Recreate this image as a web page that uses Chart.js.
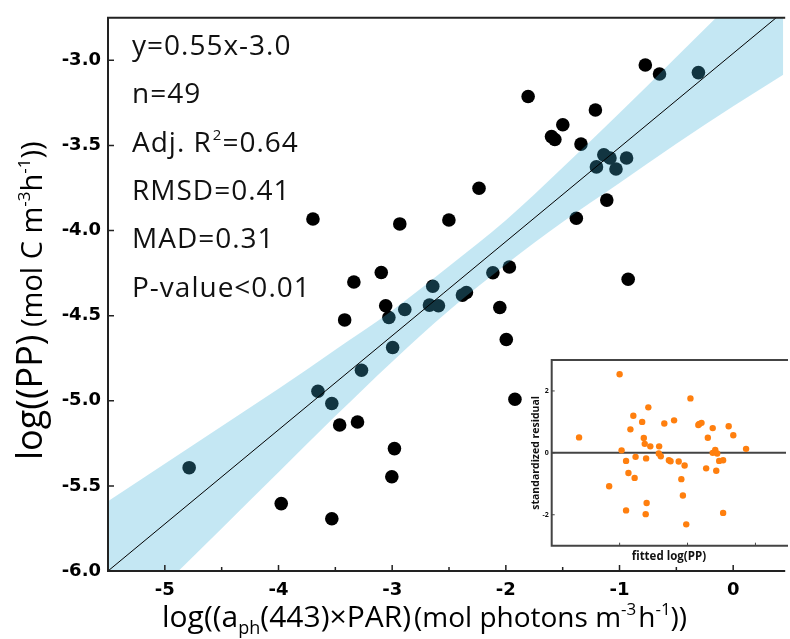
<!DOCTYPE html>
<html>
<head>
<meta charset="utf-8">
<script src="https://cdn.jsdelivr.net/npm/chart.js@4.4.1/dist/chart.umd.min.js"></script>
<style>
    html, body { margin: 0; padding: 0; background: #fff; overflow: hidden; }
    #wrap { position: relative; width: 790px; height: 639px; }
    #main { position: absolute; left: 0; top: 0; }
    #inset { position: absolute; left: 530px; top: 350px; }
</style>
</head>
<body>
<div id="wrap">
    <canvas id="main" width="790" height="639"></canvas>
    <canvas id="inset" width="260" height="215"></canvas>
</div>
<script>
// observed points: log(aph(443) x PAR) vs log(PP)
const obsX = [-0.773, -0.648, -0.306, -1.804, -1.212, -1.499, -1.598, -1.569, -1.339, -1.138,
    -1.084, -0.938, -1.203, -1.031, -2.236, -1.112, -2.933, -2.501, -1.380, -3.096,
    -2.643, -2.114, -1.969, -3.057, -3.029, -2.889, -2.672, -2.593, -2.382, -2.347,
    -2.053, -1.996, -2.996, -3.697, -3.337, -3.418, -3.270, -3.653, -3.531, -3.462,
    -3.305, -2.980, -3.003, -3.531, -4.786, -3.976, -1.920, -0.924];
const obsY = [-3.027, -3.080, -3.072, -3.212, -3.292, -3.378, -3.448, -3.465, -3.492, -3.555,
    -3.574, -3.574, -3.626, -3.638, -3.751, -3.821, -3.961, -3.938, -3.928, -4.246,
    -4.327, -4.248, -4.214, -4.442, -4.511, -4.464, -4.438, -4.442, -4.379, -4.364,
    -4.452, -4.640, -4.687, -3.932, -4.302, -4.525, -4.821, -4.944, -5.016, -5.142,
    -5.125, -5.281, -5.446, -5.693, -5.393, -5.604, -4.991, -4.286];

// regression line end points and its confidence band
const fitX = [-5.5, 0.45];
const fitY = [-6.0, -2.71];
const bandX = [-5.5, -5.0, -4.5, -4.0, -3.5, -3.0, -2.5, -2.0, -1.5, -1.0, -0.5, 0.0, 0.45];
const bandUpper = [-5.59, -5.37, -5.15, -4.93, -4.70, -4.47, -4.21, -3.94, -3.63, -3.31, -2.98, -2.65, -2.35];
const bandLower = [-6.42, -6.08, -5.75, -5.42, -5.09, -4.77, -4.47, -4.20, -3.95, -3.72, -3.49, -3.27, -3.08];

const xTicks = [-5, -4, -3, -2, -1, 0];
const xMinorTicks = [-4.5, -3.5, -2.5, -1.5, -0.5];
const yTicks = [-6.0, -5.5, -5.0, -4.5, -4.0, -3.5, -3.0];

const statsText = ['y=0.55x-3.0', 'n=49', 'Adj. R^2=0.64', 'RMSD=0.41', 'MAD=0.31', 'P-value<0.01'];

// inset: residuals
const fittedPP = [-5.597, -5.000, -5.154, -4.971, -4.905, -4.905, -4.841, -4.870, -4.798, -4.765,
    -4.779, -4.668, -4.644, -4.630, -4.610, -4.602, -4.616, -4.577, -4.548, -4.423,
    -4.418, -4.394, -4.342, -4.274, -4.250, -4.198, -4.130, -4.091, -4.068, -4.043,
    -4.019, -3.957, -3.841, -3.827, -3.794, -3.726, -3.701, -3.629, -3.629, -3.592,
    -3.577, -3.563, -3.534, -3.476, -3.476, -3.394, -3.326, -3.138];
const residual = [0.50, 2.54, -1.08, 0.08, -0.26, -1.86, 0.76, -0.65, 1.20, -0.13,
    -0.81, 1.00, 0.48, 0.29, -0.18, -1.62, -1.98, 1.47, 0.21, -0.02,
    0.21, -0.11, 0.95, -0.24, -0.27, 1.05, -0.28, -0.85, -1.38, -0.41,
    -2.31, 1.76, 0.90, 0.93, 0.97, -0.50, 0.49, 0.80, 0.00, 0.09,
    -0.58, -0.02, -0.26, -0.24, -1.94, 0.86, 0.57, 0.13];
const fittedTicks = [-5, -4, -3];
const residTicks = [-2, 0, 2];

Chart.defaults.font.family = 'Open Sans';

function pts(xs, ys) {
    return xs.map((x, i) => ({ x: x, y: ys[i] }));
}

// draws a run of text pieces (for sub/superscripts) along a baseline
function drawRich(ctx, parts, x, y, rot) {
    ctx.save();
    ctx.translate(x, y);
    ctx.rotate(rot);
    ctx.textBaseline = 'alphabetic';
    ctx.textAlign = 'left';
    let cx = 0;
    parts.forEach(p => {
        ctx.font = p.font;
        ctx.fillText(p.t, cx, p.dy || 0);
        cx += ctx.measureText(p.t).width + (p.gap || 0);
    });
    ctx.restore();
}

const mainFrame = {
    id: 'mainFrame',
    afterDraw(chart) {
        const { ctx, chartArea: a, scales: { x, y } } = chart;
        ctx.save();
        ctx.strokeStyle = '#222';
        ctx.lineWidth = 2;
        ctx.beginPath();
        ctx.moveTo(a.right + 2, a.top);
        ctx.lineTo(a.left, a.top);
        ctx.lineTo(a.left, a.bottom);
        ctx.lineTo(a.right + 2, a.bottom);
        ctx.stroke();

        // inward tick marks
        ctx.lineWidth = 1.5;
        ctx.beginPath();
        xTicks.forEach(v => {
            const px = x.getPixelForValue(v);
            ctx.moveTo(px, a.bottom);
            ctx.lineTo(px, a.bottom - 6);
        });
        xMinorTicks.forEach(v => {
            const px = x.getPixelForValue(v);
            ctx.moveTo(px, a.bottom);
            ctx.lineTo(px, a.bottom - 4);
        });
        yTicks.forEach(v => {
            const py = y.getPixelForValue(v);
            ctx.moveTo(a.left, py);
            ctx.lineTo(a.left + 6, py);
        });
        ctx.stroke();

        // statistics block
        ctx.fillStyle = '#111';
        ctx.letterSpacing = '1px';
        statsText.forEach((s, i) => {
            const base = 55 + i * 48.3;
            const bits = s.split('^');
            if (bits.length === 1) {
                drawRich(ctx, [{ t: s, font: '28px "Open Sans"' }], 132, base, 0);
            } else {
                drawRich(ctx, [
                    { t: bits[0], font: '28px "Open Sans"', gap: 1 },
                    { t: bits[1].charAt(0), font: '15px "Open Sans"', dy: -12 },
                    { t: bits[1].slice(1), font: '28px "Open Sans"' }
                ], 132, base, 0);
            }
        });
        ctx.letterSpacing = '0px';

        // axis titles
        ctx.fillStyle = '#000';
        drawRich(ctx, [
            { t: 'log((a', font: '30px "Open Sans"' },
            { t: 'ph', font: '18px "Open Sans"', dy: 7 },
            { t: '(443)\u00d7PAR)', font: '30px "Open Sans"', gap: 3 },
            { t: '(mol photons m', font: '28px "Open Sans"' },
            { t: '-3', font: '17px "Open Sans"', dy: -12, gap: 2 },
            { t: 'h', font: '28px "Open Sans"' },
            { t: '-1', font: '17px "Open Sans"', dy: -12 },
            { t: '))', font: '28px "Open Sans"' }
        ], 162, 627, 0);
        drawRich(ctx, [
            { t: 'log((PP)', font: '36px "Open Sans"' },
            { t: ' (mol C m', font: '29px "Open Sans"' },
            { t: '-3', font: '17px "Open Sans"', dy: -12 },
            { t: 'h', font: '29px "Open Sans"' },
            { t: '-1', font: '17px "Open Sans"', dy: -12 },
            { t: '))', font: '29px "Open Sans"' }
        ], 42, 460, -Math.PI / 2);
        ctx.restore();
    }
};

new Chart(document.getElementById('main'), {
    type: 'scatter',
    data: {
        datasets: [
            {
                type: 'line',
                label: 'fit',
                data: pts(fitX, fitY),
                borderColor: '#000',
                borderWidth: 1,
                pointRadius: 0,
                fill: false,
                order: 0
            },
            {
                type: 'line',
                label: 'upper',
                data: pts(bandX, bandUpper),
                borderColor: 'rgba(0,0,0,0)',
                borderWidth: 0,
                pointRadius: 0,
                cubicInterpolationMode: 'monotone',
                fill: '+1',
                backgroundColor: 'rgba(60,174,215,0.3)',
                order: 1
            },
            {
                type: 'line',
                label: 'lower',
                data: pts(bandX, bandLower),
                borderColor: 'rgba(0,0,0,0)',
                borderWidth: 0,
                pointRadius: 0,
                cubicInterpolationMode: 'monotone',
                fill: false,
                order: 1
            },
            {
                label: 'obs',
                data: pts(obsX, obsY),
                backgroundColor: '#000',
                borderWidth: 0,
                pointRadius: 6.8,
                order: 2
            }
        ]
    },
    options: {
        responsive: false,
        animation: false,
        events: [],
        layout: { padding: { top: 14, left: 0, right: 0, bottom: 0 } },
        plugins: { legend: { display: false }, tooltip: { enabled: false } },
        scales: {
            x: {
                type: 'linear',
                min: -5.5,
                max: 0.44,
                grid: { display: false, drawTicks: false },
                border: { display: false },
                ticks: {
                    color: '#000',
                    font: { family: 'DejaVu Sans', size: 18, weight: 'bold' },
                    padding: 9,
                    maxRotation: 0,
                    autoSkip: false,
                    callback: v => String(v)
                },
                afterBuildTicks: s => { s.ticks = xTicks.map(v => ({ value: v })); },
                afterFit: s => { s.height = 68; }
            },
            y: {
                type: 'linear',
                min: -6.0,
                max: -2.75,
                grid: { display: false, drawTicks: false },
                border: { display: false },
                ticks: {
                    color: '#000',
                    font: { family: 'DejaVu Sans', size: 18, weight: 'bold' },
                    padding: 7,
                    autoSkip: false,
                    callback: v => v.toFixed(1)
                },
                afterBuildTicks: s => { s.ticks = yTicks.map(v => ({ value: v })); },
                afterFit: s => { s.width = 108; }
            }
        }
    },
    plugins: [mainFrame]
});

const insetFrame = {
    id: 'insetFrame',
    beforeDraw(chart) {
        const { ctx, chartArea: a } = chart;
        ctx.save();
        ctx.fillStyle = '#fff';
        ctx.fillRect(a.left, a.top, a.right - a.left, a.bottom - a.top);
        ctx.restore();
    },
    beforeDatasetsDraw(chart) {
        const { ctx, chartArea: a, scales: { y } } = chart;
        ctx.save();
        ctx.strokeStyle = '#444';
        ctx.lineWidth = 2;
        ctx.beginPath();
        const y0 = y.getPixelForValue(0);
        ctx.moveTo(a.left, y0);
        ctx.lineTo(a.right, y0);
        ctx.stroke();
        ctx.restore();
    },
    afterDraw(chart) {
        const { ctx, chartArea: a, scales: { x, y } } = chart;
        ctx.save();
        ctx.strokeStyle = '#444';
        ctx.lineWidth = 2;
        ctx.beginPath();
        ctx.moveTo(a.right + 2, a.top);
        ctx.lineTo(a.left, a.top);
        ctx.lineTo(a.left, a.bottom);
        ctx.lineTo(a.right + 2, a.bottom);
        ctx.stroke();
        ctx.lineWidth = 1;
        ctx.beginPath();
        fittedTicks.forEach(v => {
            const px = x.getPixelForValue(v);
            ctx.moveTo(px, a.bottom);
            ctx.lineTo(px, a.bottom - 3);
        });
        residTicks.forEach(v => {
            const py = y.getPixelForValue(v);
            ctx.moveTo(a.left, py);
            ctx.lineTo(a.left + 3, py);
        });
        ctx.stroke();
        ctx.restore();
    }
};

new Chart(document.getElementById('inset'), {
    type: 'scatter',
    data: {
        datasets: [{
            label: 'residual',
            data: pts(fittedPP, residual),
            backgroundColor: '#ff7f0e',
            borderWidth: 0,
            pointRadius: 3.2
        }]
    },
    options: {
        responsive: false,
        animation: false,
        events: [],
        layout: { padding: { top: 10, left: 0, right: 0, bottom: 0 } },
        plugins: { legend: { display: false }, tooltip: { enabled: false } },
        scales: {
            x: {
                type: 'linear',
                min: -6,
                max: -2.55,
                grid: { display: false, drawTicks: false },
                border: { display: false },
                ticks: { display: false },
                afterBuildTicks: s => { s.ticks = fittedTicks.map(v => ({ value: v })); },
                title: {
                    display: true,
                    text: 'fitted log(PP)',
                    color: '#111',
                    font: { family: 'Open Sans', size: 11.5, weight: 'bold' },
                    padding: { top: 0, bottom: 1.5 }
                },
                afterFit: s => { s.height = 19.3; }
            },
            y: {
                type: 'linear',
                min: -3,
                max: 3,
                grid: { display: false, drawTicks: false },
                border: { display: false },
                ticks: {
                    color: '#111',
                    font: { family: 'Open Sans', size: 7, weight: 'bold' },
                    padding: 3,
                    autoSkip: false,
                    callback: v => String(v)
                },
                afterBuildTicks: s => { s.ticks = residTicks.map(v => ({ value: v })); },
                title: {
                    display: true,
                    text: 'standardized residual',
                    color: '#111',
                    font: { family: 'Open Sans', size: 10.5, weight: 'bold' },
                    padding: { top: 0, bottom: 0 }
                },
                afterFit: s => { s.width = 21.7; }
            }
        }
    },
    plugins: [insetFrame]
});
</script>
</body>
</html>
